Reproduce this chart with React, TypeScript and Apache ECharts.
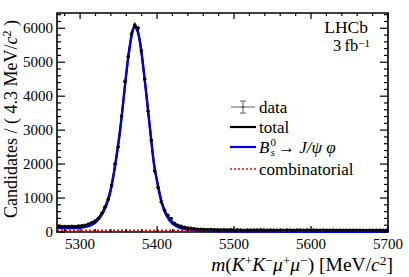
import React, { useEffect, useRef } from 'react';
import * as echarts from 'echarts';

const FONT = '"Liberation Serif", "Times New Roman", Times, serif';

// axis ranges
const X_MIN = 5270;
const X_MAX = 5700;
const Y_MIN = 0;
const Y_MAX = 6450;
const BIN_START = 5270;
const BIN_WIDTH = 4.3;

// tick values
const xMajorTicks = [5300, 5400, 5500, 5600, 5700];
const xMinorTicks = [5280, 5320, 5340, 5360, 5380, 5420, 5440, 5460, 5480, 5520, 5540, 5560, 5580, 5620, 5640, 5660, 5680];
const yMajorTicks = [0, 1000, 2000, 3000, 4000, 5000, 6000];
const yMinorTicks = [200, 400, 600, 800, 1200, 1400, 1600, 1800, 2200, 2400, 2600, 2800, 3200, 3400, 3600, 3800, 4200, 4400, 4600, 4800, 5200, 5400, 5600, 5800, 6200, 6400];

// data: candidates per 4.3 MeV bin (100 bins from 5270 to 5700)
const counts = [
  172, 158, 166, 161, 170, 163, 178, 184, 198, 236,
  277, 324, 395, 543, 737, 956, 1378, 1997, 2507, 3413,
  4425, 5162, 5832, 6097, 6000, 5339, 4496, 3560, 2700, 1800,
  1310, 885, 640, 493, 395, 248, 196, 172, 138, 121,
  108, 97, 84, 80, 76, 70, 74, 66, 69, 63,
  67, 61, 64, 58, 66, 60, 55, 63, 59, 62,
  57, 64, 60, 53, 61, 58, 56, 62, 55, 59,
  60, 54, 58, 61, 52, 57, 55, 60, 53, 56,
  58, 51, 55, 57, 50, 56, 53, 49, 55, 52,
  54, 50, 53, 48, 55, 51, 49, 53, 50, 52,
];

// fit curves sampled at these masses
const curveX = [5270, 5285, 5300, 5310, 5320, 5330, 5338, 5344, 5350, 5354, 5358, 5362, 5365, 5368, 5371, 5374, 5377, 5380, 5384, 5388, 5392, 5396, 5400, 5406, 5412, 5420, 5430, 5440, 5455, 5475, 5500, 5550, 5600, 5650, 5700];
const totalCurve = [168, 165, 176, 215, 330, 620, 1100, 1780, 2680, 3420, 4270, 5080, 5560, 5930, 6070, 6000, 5720, 5270, 4500, 3660, 2820, 2030, 1520, 900, 540, 295, 168, 118, 85, 70, 62, 57, 54, 52, 50];
const signalCurve = [116, 113, 124, 163, 278, 568, 1048, 1728, 2628, 3368, 4218, 5028, 5508, 5878, 6018, 5948, 5668, 5218, 4448, 3608, 2768, 1978, 1468, 848, 488, 243, 116, 66, 34, 20, 13, 8, 5, 3, 2];
const combX = [5270, 5700];
const combCurve = [52, 48];

export default function App() {
  const ref = useRef<HTMLDivElement>(null);

  useEffect(() => {
    document.body.style.margin = '0';
    if (!ref.current) return;
    const chart = echarts.init(ref.current, undefined, { renderer: 'svg' });

    const binData = counts.map((c, i) => [BIN_START + (i + 0.5) * BIN_WIDTH, c]);
    const tickData: number[][] = [
      ...xMajorTicks.map((v) => [0, v]),
      ...xMinorTicks.map((v) => [1, v]),
      ...yMajorTicks.map((v) => [2, v]),
      ...yMinorTicks.map((v) => [3, v]),
    ];

    const txt = { fontFamily: FONT, fill: '#000' };

    const option: any = {
      animation: false,
      backgroundColor: '#fff',
      grid: {
        left: 57,
        top: 13,
        right: 21,
        bottom: 45,
        show: true,
        borderColor: '#000',
        borderWidth: 1.6,
        backgroundColor: 'transparent',
      },
      xAxis: {
        type: 'value',
        min: X_MIN,
        max: X_MAX,
        minInterval: 100,
        maxInterval: 100,
        splitLine: { show: false },
        axisLine: { show: false },
        axisTick: { show: false },
        axisLabel: {
          showMinLabel: false,
          margin: 4,
          fontFamily: FONT,
          fontSize: 15,
          color: '#000',
          formatter: (v: number) => String(v),
        },
      },
      yAxis: {
        type: 'value',
        min: Y_MIN,
        max: Y_MAX,
        interval: 1000,
        splitLine: { show: false },
        axisLine: { show: false },
        axisTick: { show: false },
        axisLabel: {
          showMaxLabel: false,
          margin: 4,
          fontFamily: FONT,
          fontSize: 15,
          color: '#000',
          formatter: (v: number) => String(v),
        },
      },
      series: [
        {
          type: 'line',
          name: 'total',
          data: curveX.map((x, i) => [x, totalCurve[i]]),
          smooth: 0.35,
          showSymbol: false,
          symbol: 'none',
          lineStyle: { color: '#000', width: 2.2 },
          silent: true,
          z: 2,
        },
        {
          type: 'line',
          name: 'Bs0 -> J/psi phi',
          data: curveX.map((x, i) => [x, signalCurve[i]]),
          smooth: 0.35,
          showSymbol: false,
          symbol: 'none',
          lineStyle: { color: '#0000ee', width: 2.2 },
          silent: true,
          z: 3,
        },
        {
          type: 'line',
          name: 'combinatorial',
          data: combX.map((x, i) => [x, combCurve[i]]),
          showSymbol: false,
          symbol: 'none',
          lineStyle: { color: '#ff0000', width: 1.6, type: [2, 2] },
          silent: true,
          z: 4,
        },
        {
          type: 'custom',
          name: 'data',
          data: binData,
          silent: true,
          z: 5,
          renderItem: (params: any, api: any) => {
            const x = api.value(0);
            const y = api.value(1);
            const err = Math.sqrt(y);
            const p = api.coord([x, y]);
            const t = api.coord([x, y + err]);
            const b = api.coord([x, Math.max(0, y - err)]);
            const l = api.coord([x - BIN_WIDTH / 2, y]);
            const r = api.coord([x + BIN_WIDTH / 2, y]);
            return {
              type: 'group',
              children: [
                { type: 'line', shape: { x1: p[0], y1: t[1], x2: p[0], y2: b[1] }, style: { stroke: '#000', lineWidth: 1 } },
                { type: 'line', shape: { x1: l[0], y1: p[1], x2: r[0], y2: p[1] }, style: { stroke: '#000', lineWidth: 1 } },
                { type: 'circle', shape: { cx: p[0], cy: p[1], r: 1.7 }, style: { fill: '#000' } },
              ],
            };
          },
        },
        {
          type: 'custom',
          name: 'ticks',
          data: tickData,
          silent: true,
          z: 6,
          renderItem: (params: any, api: any) => {
            const kind = api.value(0);
            const v = api.value(1);
            const st = { stroke: '#000', lineWidth: 1.2 };
            if (kind === 0 || kind === 1) {
              const len = kind === 0 ? 6 : 3;
              const bot = api.coord([v, Y_MIN]);
              const top = api.coord([v, Y_MAX]);
              return {
                type: 'group',
                children: [
                  { type: 'line', shape: { x1: bot[0], y1: bot[1], x2: bot[0], y2: bot[1] - len }, style: st },
                  { type: 'line', shape: { x1: top[0], y1: top[1], x2: top[0], y2: top[1] + len }, style: st },
                ],
              };
            }
            const len = kind === 2 ? 8 : 4;
            const le = api.coord([X_MIN, v]);
            const ri = api.coord([X_MAX, v]);
            return {
              type: 'group',
              children: [
                { type: 'line', shape: { x1: le[0], y1: le[1], x2: le[0] + len, y2: le[1] }, style: st },
                { type: 'line', shape: { x1: ri[0], y1: ri[1], x2: ri[0] - len, y2: ri[1] }, style: st },
              ],
            };
          },
        },
      ],
      graphic: [
        // y-axis title
        {
          type: 'text',
          x: 11,
          y: 119,
          rotation: Math.PI / 2,
          style: {
            ...txt,
            text: 'Candidates / ( 4.3 MeV/{i|c}{sup|2} )',
            fontSize: 18,
            align: 'center',
            verticalAlign: 'middle',
            rich: {
              i: { fontFamily: FONT, fontSize: 18, fontStyle: 'italic', lineHeight: 20 },
              sup: { fontFamily: FONT, fontSize: 12, lineHeight: 13, verticalAlign: 'top' },
            },
          },
        },
        // x-axis title
        {
          type: 'text',
          x: 393,
          y: 264,
          style: {
            ...txt,
            text: '{i|m}{n|(}{i|K}{sup|+}{i|K}{sup|−}{i|μ}{sup|+}{i|μ}{sup|−}{n|) [MeV/}{i|c}{sup|2}{n|]}',
            align: 'right',
            verticalAlign: 'middle',
            rich: {
              i: { fontFamily: FONT, fontSize: 19.5, fontStyle: 'italic', lineHeight: 21 },
              n: { fontFamily: FONT, fontSize: 19.5, lineHeight: 21 },
              sup: { fontFamily: FONT, fontSize: 13.5, lineHeight: 14, verticalAlign: 'top' },
            },
          },
        },
        // LHCb label
        {
          type: 'text',
          x: 368,
          y: 26.5,
          style: { ...txt, text: 'LHCb', fontSize: 17.5, lineHeight: 15, align: 'right', verticalAlign: 'middle' },
        },
        {
          type: 'text',
          x: 370,
          y: 45,
          style: {
            ...txt,
            text: '{n|3\u2009fb}{sup|−1}',
            align: 'right',
            verticalAlign: 'middle',
            rich: {
              n: { fontFamily: FONT, fontSize: 16.5, lineHeight: 16 },
              sup: { fontFamily: FONT, fontSize: 11, lineHeight: 10, verticalAlign: 'top' },
            },
          },
        },
        // legend: data
        { type: 'line', shape: { x1: 231, y1: 107, x2: 255, y2: 107 }, style: { stroke: '#777', lineWidth: 1.2 } },
        { type: 'line', shape: { x1: 243, y1: 101, x2: 243, y2: 113 }, style: { stroke: '#777', lineWidth: 1.2 } },
        { type: 'line', shape: { x1: 240, y1: 101, x2: 246, y2: 101 }, style: { stroke: '#777', lineWidth: 1.2 } },
        { type: 'line', shape: { x1: 240, y1: 113, x2: 246, y2: 113 }, style: { stroke: '#777', lineWidth: 1.2 } },
        { type: 'circle', shape: { cx: 243, cy: 107, r: 1.3 }, style: { fill: '#555' } },
        { type: 'text', x: 259, y: 107, style: { ...txt, text: 'data', fontSize: 17, verticalAlign: 'middle' } },
        // legend: total
        { type: 'line', shape: { x1: 230, y1: 127, x2: 256, y2: 127 }, style: { stroke: '#000', lineWidth: 2.2 } },
        { type: 'text', x: 259, y: 127, style: { ...txt, text: 'total', fontSize: 17, verticalAlign: 'middle' } },
        // legend: signal
        { type: 'line', shape: { x1: 230, y1: 147, x2: 256, y2: 147 }, style: { stroke: '#0000ee', lineWidth: 2.2 } },
        { type: 'text', x: 259, y: 147, style: { ...txt, text: 'B', fontSize: 17, fontStyle: 'italic', verticalAlign: 'middle' } },
        { type: 'text', x: 270.5, y: 141.5, style: { ...txt, text: '0', fontSize: 11, verticalAlign: 'middle' } },
        { type: 'text', x: 270.5, y: 152, style: { ...txt, text: 's', fontSize: 11, fontStyle: 'italic', verticalAlign: 'middle' } },
        {
          type: 'text',
          x: 278,
          y: 147,
          style: {
            ...txt,
            text: '{n|→ }{i|J/ψ φ}',
            verticalAlign: 'middle',
            rich: {
              n: { fontFamily: FONT, fontSize: 17 },
              i: { fontFamily: FONT, fontSize: 17, fontStyle: 'italic' },
            },
          },
        },
        // legend: combinatorial
        { type: 'line', shape: { x1: 230, y1: 169, x2: 256, y2: 169 }, style: { stroke: '#ff0000', lineWidth: 1.6, lineDash: [2, 2] } },
        { type: 'text', x: 259, y: 169, style: { ...txt, text: 'combinatorial', fontSize: 17, verticalAlign: 'middle' } },
      ],
    };

    chart.setOption(option);
    return () => chart.dispose();
  }, []);

  return <div ref={ref} style={{ width: 409, height: 277, background: '#fff' }} />;
}
